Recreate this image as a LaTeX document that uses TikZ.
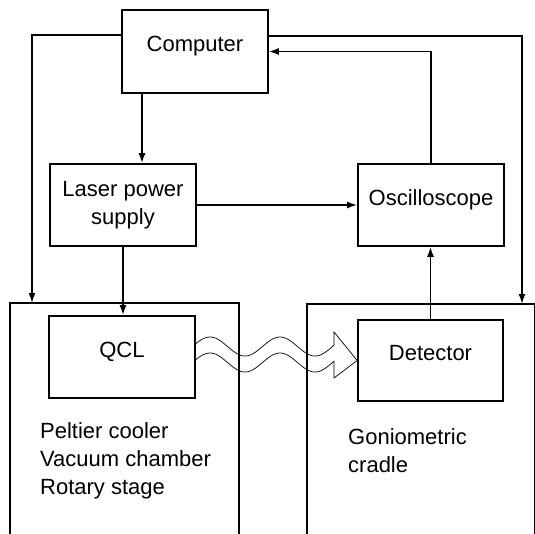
\documentclass[tikz,border=0pt]{standalone}
\usepackage{fontspec}
\setmainfont{Liberation Sans}
\usetikzlibrary{arrows.meta}
\begin{document}
\begin{tikzpicture}[x=1pt,y=-1pt,
  every node/.style={font=\fontsize{22}{28}\selectfont},
  box/.style={draw,line width=1.7pt,minimum width=146pt,inner sep=0pt},
  lbl/.style={text height=0pt,text depth=0pt},
  conn/.style={line width=1.6pt},
  arr/.style={conn,-{Latex[length=10pt,width=7pt]}},
  wave/.style={line width=0.7pt},
  encl/.style={line width=1.7pt}]
\useasboundingbox (0,0) rectangle (535,533);
% enclosures
\draw[encl] (10,540) -- (10,303) -- (239,303) -- (239,540);
\draw[encl] (307,540) -- (307,304) -- (535,304) -- (535,540);
\coordinate (lt) at (32,303);
\coordinate (rt) at (522,304);
% boxes
\node[box,lbl,minimum height=83pt] (computer) at (195,51.5) {Computer};
\node[box,minimum height=82pt,align=center] (laser) at (123,205) {Laser power\\supply};
\node[box,lbl,minimum height=82pt] (osc) at (431,205) {Oscilloscope};
\node[box,lbl,minimum height=82pt] (qcl) at (122,357) {QCL};
\node[box,lbl,minimum height=81pt,minimum width=145pt] (det) at (430.5,360.5) {Detector};
% enclosure texts
\node[anchor=base west,align=left,inner sep=0pt] (peltier) at (40,494.5) {Peltier cooler\\Vacuum chamber\\Rotary stage};
\node[anchor=base west,align=left,inner sep=0pt] (gonio) at (348,472) {Goniometric\\cradle};
% connectors
\draw[arr] ([yshift=16.5pt]computer.west) -| (lt);
\draw[arr] ([yshift=15.5pt]computer.east) -| (rt);
\draw[arr] (osc.north) |- (computer.east);
\draw[arr] ([xshift=-53pt]computer.south) -- ([xshift=-53pt]computer.south |- laser.north);
\draw[arr] (laser.east) -- (osc.west);
\draw[arr] (laser.south) -- (laser.south |- qcl.north);
\draw[arr] (det.north) -- (det.north |- osc.south);
% wavy beam
\draw[wave] plot[domain=195:334,samples=80,smooth] (\x,{346.5-9.5*cos(5.142857*(\x-210))});
\draw[wave] plot[domain=195:334,samples=80,smooth] (\x,{362.5-9.5*cos(5.142857*(\x-210))});
\draw[wave] (334,345.2) -- (334,332) -- (det.west) -- (334,378) -- (334,361.2);
\end{tikzpicture}
\end{document}
